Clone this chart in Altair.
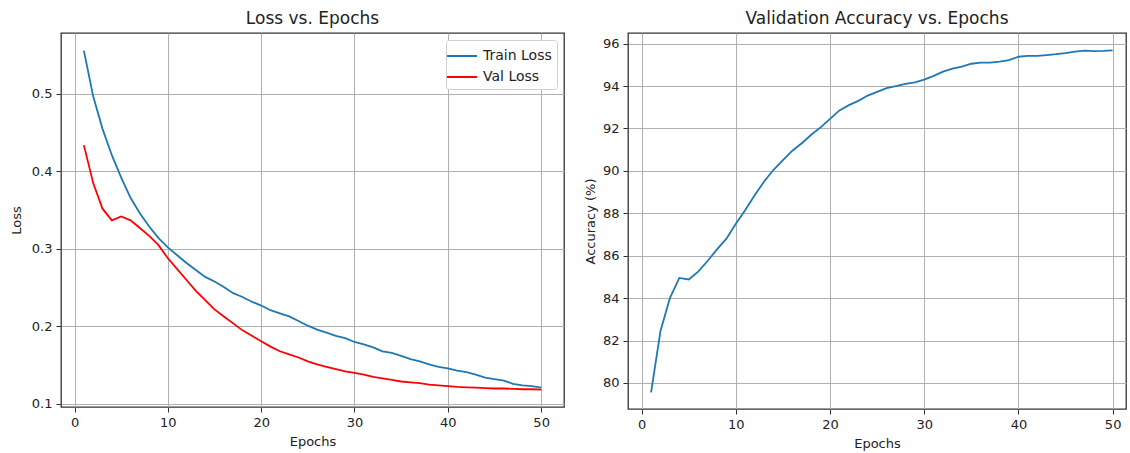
import altair as alt
import pandas as pd

epochs = list(range(1, 51))

train_loss = [0.556, 0.497, 0.455, 0.421, 0.392, 0.366, 0.346, 0.329, 0.314, 0.302,
              0.292, 0.282, 0.273, 0.264, 0.258, 0.251, 0.243, 0.238, 0.232, 0.227,
              0.221, 0.217, 0.213, 0.207, 0.201, 0.196, 0.192, 0.188, 0.185, 0.180,
              0.177, 0.173, 0.168, 0.166, 0.162, 0.158, 0.155, 0.151, 0.148, 0.146,
              0.143, 0.141, 0.138, 0.134, 0.132, 0.130, 0.126, 0.124, 0.123, 0.121]

val_loss = [0.434, 0.385, 0.352, 0.337, 0.342, 0.337, 0.327, 0.317, 0.305, 0.288,
            0.274, 0.260, 0.246, 0.234, 0.222, 0.213, 0.204, 0.195, 0.188, 0.181,
            0.174, 0.168, 0.164, 0.160, 0.155, 0.151, 0.148, 0.145, 0.142, 0.140,
            0.138, 0.135, 0.133, 0.131, 0.129, 0.128, 0.127, 0.125, 0.124, 0.123,
            0.122, 0.1215, 0.121, 0.1205, 0.120, 0.120, 0.1195, 0.119, 0.119, 0.1185]

val_acc = [79.55, 82.45, 84.0, 84.95, 84.88, 85.25, 85.75, 86.3, 86.8, 87.5,
           88.15, 88.85, 89.5, 90.05, 90.5, 90.95, 91.3, 91.7, 92.05, 92.45,
           92.85, 93.1, 93.3, 93.55, 93.72, 93.9, 94.0, 94.1, 94.17, 94.3,
           94.48, 94.68, 94.82, 94.92, 95.05, 95.1, 95.1, 95.15, 95.22, 95.38,
           95.42, 95.42, 95.46, 95.5, 95.55, 95.62, 95.67, 95.65, 95.66, 95.68]

series_names = ["Train Loss", "Val Loss"]
series_colors = ["#1f77b4", "#ff0000"]
x_ticks = [0, 10, 20, 30, 40, 50]
loss_ticks = [0.1, 0.2, 0.3, 0.4, 0.5]
acc_ticks = [80, 82, 84, 86, 88, 90, 92, 94, 96]

loss_df = pd.DataFrame({
    "Epoch": epochs * 2,
    "Loss": train_loss + val_loss,
    "Series": [series_names[0]] * len(epochs) + [series_names[1]] * len(epochs),
})
acc_df = pd.DataFrame({"Epoch": epochs, "Acc": val_acc})

FONT = "DejaVu Sans"
axis_common = dict(
    grid=True, gridColor="#b0b0b0", gridWidth=1, domain=False,
    tickColor="#333333", tickSize=5, tickWidth=1,
    labelFontSize=13, labelColor="#222222", labelFont=FONT, labelPadding=4,
    titleFontSize=13, titleColor="#222222", titleFont=FONT, titleFontWeight="normal",
)

left = alt.Chart(loss_df).mark_line(strokeWidth=1.8).encode(
    x=alt.X("Epoch:Q",
            scale=alt.Scale(domain=[-1.45, 52.45], nice=False, zero=False),
            axis=alt.Axis(values=x_ticks, title="Epochs", titlePadding=6, **axis_common)),
    y=alt.Y("Loss:Q",
            scale=alt.Scale(domain=[0.0961, 0.5787], nice=False, zero=False),
            axis=alt.Axis(values=loss_ticks, format=".1f", title="Loss", titlePadding=8, **axis_common)),
    color=alt.Color("Series:N",
                    scale=alt.Scale(domain=series_names, range=series_colors),
                    legend=alt.Legend(title=None, orient="top-right", offset=7,
                                      fillColor="white", strokeColor="#d0d0d0",
                                      padding=5, cornerRadius=3,
                                      symbolType="M-1.5,0H1.5", symbolSize=400,
                                      symbolStrokeWidth=2,
                                      labelFontSize=14, labelFont=FONT, labelColor="#222222",
                                      labelOffset=10, rowPadding=3)),
).properties(
    width=503, height=374,
    title=alt.TitleParams("Loss vs. Epochs", fontSize=17, font=FONT, fontWeight="normal",
                          color="#222222", offset=5),
)

right = alt.Chart(acc_df).mark_line(strokeWidth=1.8, color="#1f77b4").encode(
    x=alt.X("Epoch:Q",
            scale=alt.Scale(domain=[-1.45, 51.42], nice=False, zero=False),
            axis=alt.Axis(values=x_ticks, title="Epochs", titlePadding=6, **axis_common)),
    y=alt.Y("Acc:Q",
            scale=alt.Scale(domain=[78.77, 96.5], nice=False, zero=False),
            axis=alt.Axis(values=acc_ticks, title="Accuracy (%)", titlePadding=5, **axis_common)),
).properties(
    width=498, height=376,
    title=alt.TitleParams("Validation Accuracy vs. Epochs", fontSize=17, font=FONT,
                          fontWeight="normal", color="#222222", offset=5),
)

chart = alt.hconcat(left, right, spacing=18).resolve_scale(
    color="independent"
).resolve_legend(
    color="independent"
).properties(
    padding={"left": 9, "top": 9, "right": 0, "bottom": 0},
    background="white",
).configure_view(stroke="#333333", strokeWidth=1.3)

chart.save("out.html", embed_options={"renderer": "svg", "actions": False})
